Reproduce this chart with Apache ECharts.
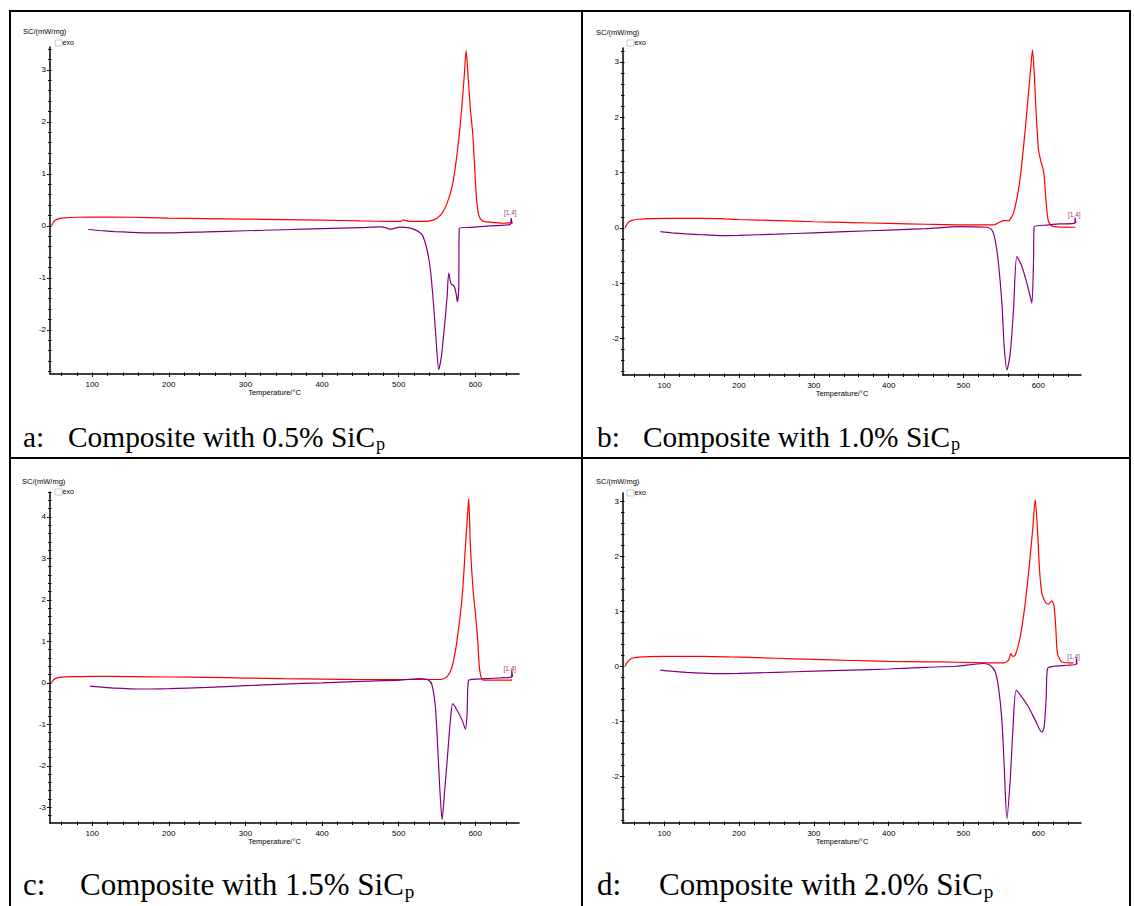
<!DOCTYPE html>
<html><head><meta charset="utf-8">
<script src="https://cdn.jsdelivr.net/npm/echarts@6/dist/echarts.min.js"></script>
<style>html,body{margin:0;padding:0;background:#fff}#c{width:1134px;height:906px}</style>
</head><body><div id="c"></div><script>
// ---------------- DATA ----------------
const xMajorTicks = [100, 200, 300, 400, 500, 600];
const yTicksA = [-2, -1, 0, 1, 2, 3];
const yTicksB = [-2, -1, 0, 1, 2, 3];
const yTicksC = [-3, -2, -1, 0, 1, 2, 3, 4];
const yTicksD = [-2, -1, 0, 1, 2, 3];

const captions = ['Composite with 0.5% SiC', 'Composite with 1.0% SiC', 'Composite with 1.5% SiC', 'Composite with 2.0% SiC'];
const letters = ['a:', 'b:', 'c:', 'd:'];

// [temperature °C, DSC mW/mg] — red: cooling curve, purple: heating curve
const redA = [[47,0.0],[49,0.06],[52,0.11],[57,0.14],[65,0.155],[80,0.165],[100,0.17],[150,0.165],[200,0.15],[250,0.14],[300,0.13],[350,0.12],[400,0.11],[450,0.095],[495,0.085],[503,0.085],[506,0.115],[509,0.1],[515,0.085],[530,0.085],[541,0.096],[550,0.148],[556.7,0.244],[563.2,0.437],[569.7,0.756],[574,1.14],[578.3,1.65],[582.8,2.36],[585.8,2.94],[588,3.37],[590.6,2.87],[593.6,2.23],[596.6,1.78],[598.8,1.21],[601.4,0.56],[604.4,0.21],[608.9,0.10],[619.7,0.07],[637,0.05],[648,0.06]];
const purA = [[95,-0.07],[110,-0.09],[130,-0.11],[150,-0.125],[170,-0.135],[200,-0.135],[250,-0.115],[300,-0.095],[350,-0.075],[400,-0.055],[450,-0.035],[476,-0.02],[483,-0.035],[489,-0.065],[495,-0.045],[502,-0.025],[512,-0.035],[521.7,-0.077],[530.5,-0.17],[537,-0.46],[541.4,-0.85],[545.7,-1.55],[548.8,-2.19],[552.2,-2.76],[555.7,-2.51],[559.7,-1.94],[563.2,-1.36],[565.3,-0.91],[568.4,-1.12],[571.8,-1.15],[574.4,-1.26],[576.6,-1.46],[578.3,-1.23],[579.2,-0.045],[593.6,-0.03],[619.7,0.0],[645.8,0.03],[646.7,0.15],[648,0.04]];

const redB = [[48,0.0],[50,0.06],[53,0.11],[58,0.14],[66,0.155],[80,0.165],[100,0.17],[150,0.17],[175,0.165],[200,0.15],[250,0.13],[300,0.11],[350,0.095],[400,0.08],[450,0.065],[495.5,0.054],[540,0.054],[553.4,0.13],[560,0.127],[566.8,0.27],[573.5,0.69],[578,1.17],[582.4,1.77],[586.9,2.44],[590,2.92],[592.2,3.21],[594.5,2.8],[597.1,2.07],[600.2,1.41],[603.4,1.2],[606.1,1.08],[607.8,0.93],[610.5,0.45],[613.6,0.11],[620.3,0.02],[649.3,0.01]];
const purB = [[95,-0.07],[110,-0.09],[130,-0.11],[150,-0.125],[175,-0.14],[200,-0.135],[250,-0.115],[300,-0.09],[350,-0.065],[400,-0.04],[450,-0.015],[495.5,0.02],[531,0.01],[537.9,-0.04],[542.3,-0.22],[546.7,-0.64],[551.3,-1.36],[554.4,-2.15],[558,-2.57],[562.4,-2.27],[566.8,-1.48],[571.3,-0.52],[578,-0.7],[584.7,-1.0],[589.1,-1.24],[591.4,-1.36],[593.5,-0.64],[594.5,0.02],[611.4,0.05],[629.2,0.07],[648.5,0.085],[649.3,0.18],[650,0.085]];

const redC = [[47,0.0],[49,0.06],[52,0.1],[57,0.13],[65,0.145],[80,0.15],[100,0.155],[150,0.15],[200,0.14],[250,0.13],[300,0.115],[350,0.1],[400,0.09],[450,0.08],[502,0.08],[554.4,0.08],[563.2,0.15],[569.7,0.39],[576.2,1.03],[582.8,2.07],[587.1,3.28],[590.6,4.24],[591.4,4.44],[593.6,3.28],[597.1,2.23],[600.1,1.67],[603.1,1.03],[605.7,0.31],[610.2,0.065],[628.5,0.065],[648,0.065]];
const purC = [[97,-0.08],[110,-0.1],[130,-0.13],[150,-0.145],[170,-0.15],[200,-0.14],[250,-0.11],[300,-0.07],[350,-0.03],[400,0.0],[450,0.035],[502,0.065],[528,0.1],[539,0.065],[543.5,-0.055],[547.9,-0.58],[550.9,-1.54],[553.5,-2.5],[556.7,-3.3],[559.7,-2.67],[564,-1.7],[567.5,-0.9],[570.5,-0.5],[576.2,-0.66],[582.8,-0.9],[587.1,-1.12],[589.3,-0.74],[591.4,0.065],[615.4,0.1],[632.8,0.12],[647,0.14],[647.7,0.3],[648.5,0.14]];

const redD = [[48,0.0],[50,0.06],[53,0.11],[58,0.15],[66,0.165],[80,0.175],[100,0.18],[150,0.18],[200,0.165],[250,0.145],[300,0.125],[350,0.105],[400,0.09],[450,0.08],[468.8,0.078],[513.3,0.067],[553.4,0.06],[560.1,0.11],[563.3,0.23],[565.9,0.18],[569.1,0.2],[575.7,0.53],[582.4,1.14],[588.2,1.87],[592.7,2.53],[595.8,3.03],[598.9,2.47],[601.6,1.75],[604.8,1.32],[610.5,1.14],[613.6,1.13],[618.1,1.19],[621.2,1.08],[623.5,0.65],[625.6,0.23],[631.5,0.078],[647,0.06]];
const purD = [[95,-0.07],[110,-0.09],[130,-0.11],[150,-0.125],[175,-0.135],[200,-0.13],[250,-0.11],[300,-0.09],[350,-0.07],[400,-0.05],[450,-0.02],[490,0.0],[526.7,0.05],[535.6,0.018],[542.3,-0.1],[546.7,-0.38],[551.3,-0.98],[554.4,-1.83],[558,-2.77],[562.4,-2.07],[566,-1.16],[570.4,-0.44],[578,-0.56],[586.9,-0.74],[595.8,-0.98],[604.8,-1.2],[607.8,-1.1],[610.5,-0.56],[612.3,-0.04],[620.3,0.0],[638.2,0.018],[650.5,0.036],[651,0.15],[651.6,0.036]];

// annotation "[1.4]" anchor [T, value]
const endLabelA = [645.7, 0.25];
const endLabelB = [648, 0.235];
const endLabelC = [645, 0.35];
const endLabelD = [647, 0.18];

// ---------------- LAYOUT ----------------
const X_MIN = 45, X_MAX = 657;
const panels = [
  {grid:{left:50, top:47, width:469, height:327}, yMin:-2.85, yMax:3.44, yTicks:yTicksA, red:redA, pur:purA, lab:endLabelA,
   box:[10,11,582,458], cap:{lx:23, tx:68, y:437, fs:29.4}, yname:[23,31], exo:[55,43]},
  {grid:{left:623, top:48, width:458, height:327}, yMin:-2.66, yMax:3.25, yTicks:yTicksB, red:redB, pur:purB, lab:endLabelB,
   box:[582,11,1130,458], cap:{lx:597, tx:643, y:437, fs:29.4}, yname:[596,32], exo:[627,43]},
  {grid:{left:50, top:492, width:469, height:331}, yMin:-3.38, yMax:4.6, yTicks:yTicksC, red:redC, pur:purC, lab:endLabelC,
   box:[10,458,582,920], cap:{lx:23, tx:80, y:884, fs:31}, yname:[22,481], exo:[55,492]},
  {grid:{left:623, top:493, width:458, height:330}, yMin:-2.85, yMax:3.15, yTicks:yTicksD, red:redD, pur:purD, lab:endLabelD,
   box:[582,458,1130,920], cap:{lx:597, tx:659, y:884, fs:31}, yname:[596,481], exo:[627,493]}
];

const xMinorTicks = [];
for (let t = 60; t <= 640; t += 20) if (t % 100 !== 0) xMinorTicks.push(t);
const xAllTicks = xMinorTicks.concat(xMajorTicks);

const tickFont = {fontFamily:'"Liberation Sans", Arial, sans-serif', fontSize:8, color:'#000'};
const grids = [], xAxes = [], yAxes = [], series = [], graphics = [];

panels.forEach((p, i) => {
  grids.push(Object.assign({containLabel:false}, p.grid));
  const yMinor = [];
  for (let v = Math.ceil(p.yMin * 5) / 5; v <= p.yMax + 1e-9; v += 0.2) {
    const r = Math.round(v * 10) / 10;
    if (Math.abs(r - Math.round(r)) > 1e-6) yMinor.push(r);
  }
  const yAll = yMinor.concat(p.yTicks);
  // major x axis
  xAxes.push({type:'value', gridIndex:i, min:X_MIN, max:X_MAX, position:'bottom',
    name:'Temperature/°C', nameLocation:'middle', nameGap:13,
    nameTextStyle:Object.assign({}, tickFont, {fontSize:7.5, padding:[0, 20, 0, 0]}),
    axisLine:{show:true, onZero:false, lineStyle:{color:'#000', width:1.5}},
    axisTick:{show:true, length:3, inside:false, customValues:xMajorTicks, lineStyle:{color:'#000'}},
    axisLabel:Object.assign({show:true, margin:6, customValues:xMajorTicks}, tickFont),
    splitLine:{show:false}});
  // minor x ticks (outside)
  xAxes.push({type:'value', gridIndex:i, min:X_MIN, max:X_MAX, position:'bottom',
    axisLine:{show:false, onZero:false}, axisLabel:{show:false}, splitLine:{show:false},
    axisTick:{show:true, length:2, customValues:xMinorTicks, lineStyle:{color:'#000'}}});
  // x ticks (inside part)
  xAxes.push({type:'value', gridIndex:i, min:X_MIN, max:X_MAX, position:'bottom',
    axisLine:{show:false, onZero:false}, axisLabel:{show:false}, splitLine:{show:false},
    axisTick:{show:true, inside:true, length:1.5, customValues:xAllTicks, lineStyle:{color:'#000'}}});
  // major y axis
  yAxes.push({type:'value', gridIndex:i, min:p.yMin, max:p.yMax, position:'left',
    axisLine:{show:true, onZero:false, lineStyle:{color:'#000', width:1.5}},
    axisTick:{show:true, length:3, customValues:p.yTicks, lineStyle:{color:'#000'}},
    axisLabel:Object.assign({show:true, margin:4, customValues:p.yTicks}, tickFont),
    splitLine:{show:false}});
  // minor y ticks (outside)
  yAxes.push({type:'value', gridIndex:i, min:p.yMin, max:p.yMax, position:'left',
    axisLine:{show:false, onZero:false}, axisLabel:{show:false}, splitLine:{show:false},
    axisTick:{show:true, length:2, customValues:yMinor, lineStyle:{color:'#000'}}});
  // y ticks (inside part)
  yAxes.push({type:'value', gridIndex:i, min:p.yMin, max:p.yMax, position:'left',
    axisLine:{show:false, onZero:false}, axisLabel:{show:false}, splitLine:{show:false},
    axisTick:{show:true, inside:true, length:1.5, customValues:yAll, lineStyle:{color:'#000'}}});

  series.push({type:'line', xAxisIndex:3*i, yAxisIndex:3*i, data:p.red, showSymbol:false, smooth:0.25,
    lineStyle:{color:'#ff0000', width:1.2}, silent:true, animation:false});
  series.push({type:'line', xAxisIndex:3*i, yAxisIndex:3*i, data:p.pur, showSymbol:false, smooth:0.25,
    lineStyle:{color:'#800080', width:1.2}, silent:true, animation:false,
    markPoint:{symbol:'rect', symbolSize:0, data:[{coord:p.lab}],
      label:{show:true, formatter:'[1.4]', color:'#a0307f', fontSize:6.5, fontFamily:'"Liberation Sans", Arial, sans-serif'}}});

  // borders
  const [x1, y1, x2, y2] = p.box;
  graphics.push({type:'rect', shape:{x:x1, y:y1, width:x2 - x1, height:y2 - y1},
    style:{fill:'none', stroke:'#000', lineWidth:2}, silent:true});
  // y axis name
  graphics.push({type:'text', x:p.yname[0], y:p.yname[1],
    style:{text:'SC/(mW/mg)', font:'7.5px "Liberation Sans", Arial, sans-serif', fill:'#000', verticalAlign:'middle'}});
  // exo marker
  graphics.push({type:'rect', shape:{x:p.exo[0], y:p.exo[1] - 3, width:7, height:6},
    style:{fill:'none', stroke:'#aaa', lineWidth:0.6}});
  graphics.push({type:'text', x:p.exo[0] + 7.5, y:p.exo[1] - 1,
    style:{text:'exo', font:'7px "Liberation Sans", Arial, sans-serif', fill:'#000', verticalAlign:'middle'}});
  // caption
  const fs = p.cap.fs;
  const capFont = fs + 'px "Liberation Serif", "Times New Roman", serif';
  graphics.push({type:'text', x:p.cap.lx, y:p.cap.y,
    style:{text:letters[i], font:capFont, fill:'#000', verticalAlign:'middle'}});
  const ctx = document.createElement('canvas').getContext('2d');
  ctx.font = capFont;
  const w = ctx.measureText(captions[i]).width;
  graphics.push({type:'text', x:p.cap.tx, y:p.cap.y,
    style:{text:captions[i], font:capFont, fill:'#000', verticalAlign:'middle'}});
  graphics.push({type:'text', x:p.cap.tx + w + 1, y:p.cap.y + fs * 0.25,
    style:{text:'p', font:(fs * 0.62) + 'px "Liberation Serif", "Times New Roman", serif', fill:'#000', verticalAlign:'middle'}});
});

const chart = echarts.init(document.getElementById('c'), null, {renderer:'svg', width:1134, height:906});
chart.setOption({
  animation:false,
  backgroundColor:'#fff',
  grid:grids, xAxis:xAxes, yAxis:yAxes, series:series, graphic:graphics
});
</script></body></html>
